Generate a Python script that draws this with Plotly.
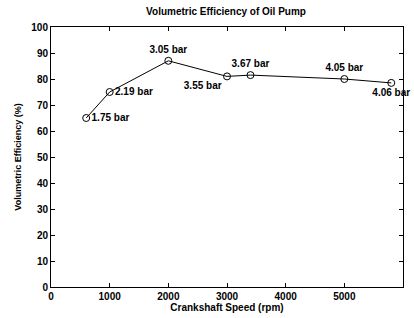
import plotly.graph_objects as go

speed = [600, 1000, 2000, 3000, 3400, 5000, 5800]
efficiency = [65, 75, 87, 81, 81.5, 80, 78.5]
pressure_labels = ["1.75 bar", "2.19 bar", "3.05 bar", "3.55 bar", "3.67 bar", "4.05 bar", "4.06 bar"]
label_pos = ["middle right", "middle right", "top center", "bottom left", "top center", "top center", "bottom center"]

x_ticks = [0, 1000, 2000, 3000, 4000, 5000, 6000]
y_ticks = [0, 10, 20, 30, 40, 50, 60, 70, 80, 90, 100]

font = "Arial, Liberation Sans, sans-serif"

fig = go.Figure()
fig.add_trace(go.Scatter(
    x=speed, y=efficiency, mode="lines+markers+text",
    text=pressure_labels, textposition=label_pos,
    textfont=dict(family=font, size=10, color="black", weight="bold"),
    line=dict(color="black", width=1),
    marker=dict(symbol="circle-open", size=7, color="black", line=dict(width=1)),
    cliponaxis=False, showlegend=False,
))

axis_common = dict(
    showline=True, linecolor="black", linewidth=1, mirror="ticks",
    ticks="inside", ticklen=4, tickcolor="black", showgrid=False, zeroline=False,
    automargin=False,
    tickfont=dict(family=font, size=10, color="black", weight="bold"),
)
fig.update_layout(
    width=414, height=318,
    margin=dict(l=51, r=11, t=27, b=31),
    paper_bgcolor="white", plot_bgcolor="white",
    title=dict(text="Volumetric Efficiency of Oil Pump", x=0.546, xanchor="center",
               y=0.963, yanchor="middle",
               font=dict(family=font, size=10, color="black", weight="bold")),
    xaxis=dict(range=[0, 6000], tickvals=x_ticks,
               title=dict(text="Crankshaft Speed (rpm)", standoff=0,
                          font=dict(family=font, size=10, color="black", weight="bold")), **axis_common),
    yaxis=dict(range=[0, 100], tickvals=y_ticks,
               title=dict(text="Volumetric Efficiency (%)", standoff=8,
                          font=dict(family=font, size=9, color="black", weight="bold")), **axis_common),
)
fig.write_html("out.html", config={"displayModeBar": False},
               post_script="document.body.style.margin='0';")
